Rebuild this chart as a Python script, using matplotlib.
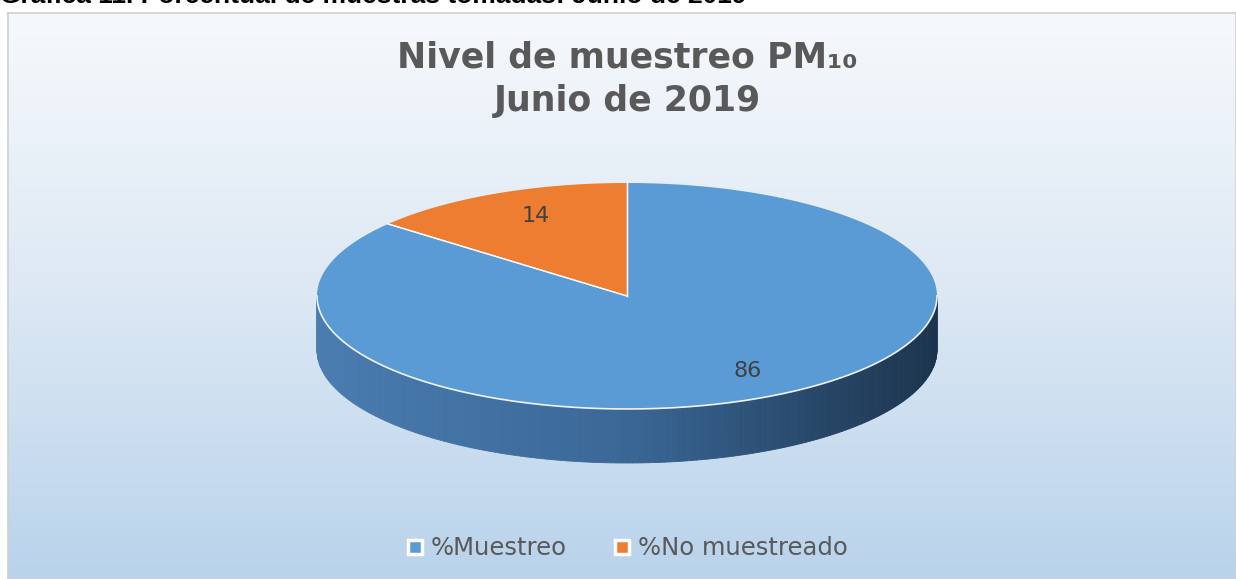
import numpy as np
import matplotlib.pyplot as plt
from matplotlib.patches import Polygon, Rectangle
from matplotlib.colors import LinearSegmentedColormap

# data
labels = ['%Muestreo', '%No muestreado']
values = [86, 14]
colors = ['#5b9bd5', '#ed7d31']

W, H = 1236, 579
fig = plt.figure(figsize=(W / 100, H / 100), dpi=100)
fig.patch.set_facecolor('white')
FONT = 'DejaVu Sans'

# chart area background with vertical gradient
bg = fig.add_axes([8 / W, 0, 1 - 8 / W, 1 - 13 / H])
grad = np.linspace(0, 1, 256).reshape(-1, 1)
cmap_bg = LinearSegmentedColormap.from_list('bg', ['#f6f9fc', '#dce8f4', '#b9d3eb'])
bg.imshow(grad, aspect='auto', cmap=cmap_bg, extent=[0, 1, 0, 1], origin='upper')
bg.set_xticks([])
bg.set_yticks([])
for s in bg.spines.values():
    s.set_color('#d0d0d0')
    s.set_linewidth(1.2)

# drawing axes in pixel units
ax = fig.add_axes([0, 0, 1, 1])
ax.set_xlim(0, W)
ax.set_ylim(H, 0)
ax.axis('off')
ax.patch.set_alpha(0)

cx, cy, rx, ry, depth = 627, 296, 310, 113, 54


def pt(t, dy=0):
    return cx + rx * np.cos(np.radians(t)), cy - ry * np.sin(np.radians(t)) + dy


# side of the pie (front half), shaded left to right
cmap_side = LinearSegmentedColormap.from_list('side', ['#4a7cb0', '#3a6796', '#1c344d'])
ts = np.linspace(180, 360, 181)
for a, b in zip(ts[:-1], ts[1:]):
    x1, y1 = pt(a)
    x2, y2 = pt(b)
    f = (np.cos(np.radians((a + b) / 2)) + 1) / 2
    ax.add_patch(Polygon([(x1, y1), (x2, y2), (x2, y2 + depth), (x1, y1 + depth)],
                         closed=True, facecolor=cmap_side(f), edgecolor=cmap_side(f), lw=0.6))

# top face slices, clockwise from 12 o'clock
start = 90
mids = []
for v, c in zip(values, colors):
    sweep = v / sum(values) * 360
    t = np.linspace(start, start - sweep, 200)
    xs, ys = pt(t)
    verts = [(cx, cy)] + list(zip(xs, ys))
    ax.add_patch(Polygon(verts, closed=True, facecolor=c, edgecolor='none'))
    mids.append(start - sweep / 2)
    for tt in (start, start - sweep):
        ex, ey = pt(tt)
        ax.plot([cx, ex], [cy, ey], color='white', lw=1, alpha=0.8)
    start -= sweep

# white highlight along front rim
t = np.linspace(180, 360, 200)
xs, ys = pt(t)
ax.plot(xs, ys, color='white', lw=1.2, alpha=0.9)

# value labels (nudged for the 3-D perspective)
nudges = [(18, -5), (12, 0)]
for v, m, (dx, dy) in zip(values, mids, nudges):
    lx = cx + 0.78 * rx * np.cos(np.radians(m)) + dx
    ly = cy - 0.78 * ry * np.sin(np.radians(m)) + dy
    ax.text(lx, ly, str(v), ha='center', va='center', fontsize=16,
            color='#404040', family=FONT)

# title
ax.text(cx, 57, 'Nivel de muestreo PM₁₀', ha='center', va='center', fontsize=25,
        fontweight='bold', color='#595959', family=FONT)
ax.text(cx, 101, 'Junio de 2019', ha='center', va='center', fontsize=25,
        fontweight='bold', color='#595959', family=FONT)

# caption above the chart, cut off by the page edge
fig.text(0.0, 1 - 3 / H, 'Gráfica 11. Porcentual de muestras tomadas: Junio de 2019',
         ha='left', va='baseline', fontsize=19, fontweight='bold', color='black',
         family='Liberation Sans')

# legend
for lab, c, x0 in zip(labels, colors, [408, 615]):
    ax.add_patch(Rectangle((x0, 540), 14, 14, facecolor=c, edgecolor='white', lw=2.5))
    ax.text(x0 + 23, 548, lab, ha='left', va='center', fontsize=17.5,
            color='#595959', family=FONT)

fig.savefig('out.png', dpi=100)
